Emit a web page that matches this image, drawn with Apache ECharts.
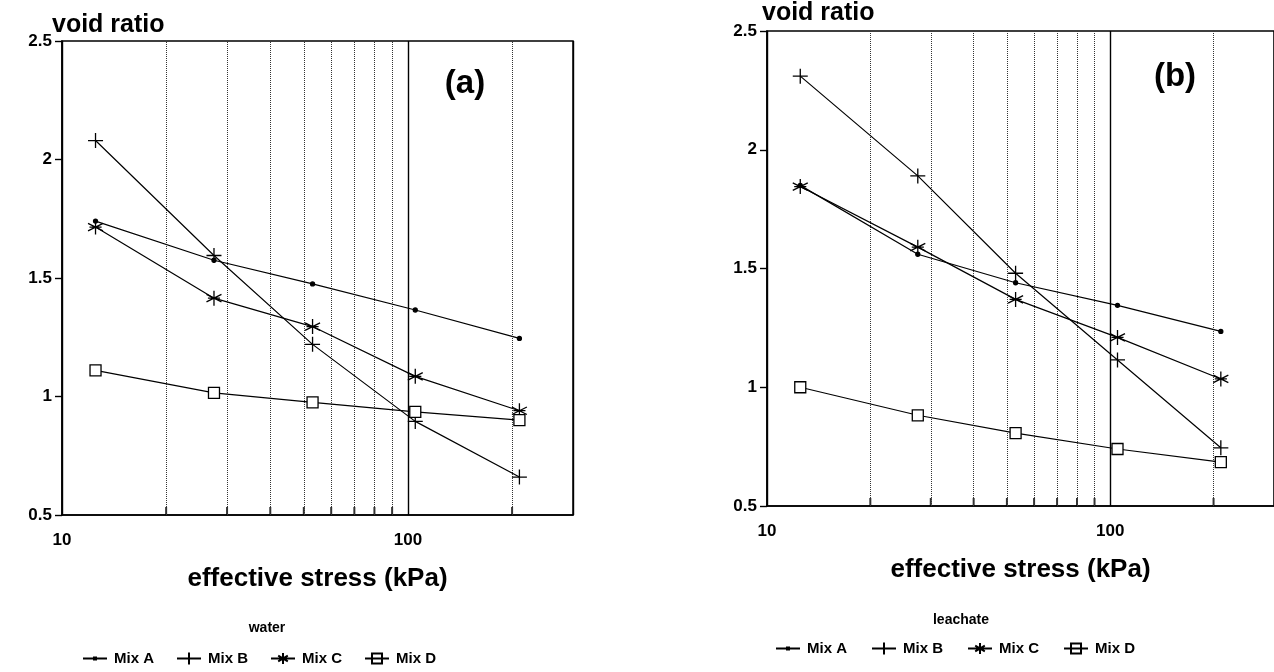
<!DOCTYPE html>
<html>
<head>
<meta charset="utf-8">
<script src="https://cdn.jsdelivr.net/npm/echarts@6/dist/echarts.min.js"></script>
<style>
  html, body { margin: 0; padding: 0; background: #fff; }
  #main { width: 1274px; height: 672px; }
</style>
</head>
<body>
<div id="main"></div>
<script>
// effective stress (kPa), same load steps in both tests
const stress = [12.5, 27.5, 53, 105, 210]
// dotted gridlines / minor ticks on the log axis
const minorTicks = [20, 30, 40, 50, 60, 70, 80, 90, 200]
const mixNames = ['Mix A', 'Mix B', 'Mix C', 'Mix D']

// (a) water
const waterMixA = [1.74, 1.575, 1.475, 1.365, 1.245]
const waterMixB = [2.08, 1.595, 1.22, 0.895, 0.66]
const waterMixC = [1.715, 1.415, 1.295, 1.085, 0.94]
const waterMixD = [1.11, 1.015, 0.975, 0.935, 0.9]

// (b) leachate
const leachMixA = [1.85, 1.56, 1.44, 1.345, 1.235]
const leachMixB = [2.31, 1.89, 1.48, 1.115, 0.745]
const leachMixC = [1.845, 1.59, 1.37, 1.21, 1.035]
const leachMixD = [1.0, 0.882, 0.807, 0.74, 0.685]

const FONT = "'Liberation Sans', Arial, sans-serif"

// 标记样式 (图内 + 图例)
const symbols = {
  'Mix A': { symbol: 'circle', size: 4, fill: '#000',
    icon: 'path://M0,0 M24,12 M0,6 L24,6 M11,5 L13,5 L13,7 L11,7 Z' },
  'Mix B': { symbol: 'path://M5,0 L5,10 M0,5 L10,5', size: 15, fill: '#000',
    icon: 'path://M0,0 M24,12 M0,6 L24,6 M12,0 L12,12' },
  'Mix C': { symbol: 'path://M5,0 L5,10 M0.67,2.5 L9.33,7.5 M0.67,7.5 L9.33,2.5 M1.5,5 L8.5,5', size: 15, fill: '#000',
    icon: 'path://M0,0 M24,12 M0,6 L24,6 M12,0.5 L12,11.5 M7.2,3.2 L16.8,8.8 M7.2,8.8 L16.8,3.2' },
  'Mix D': { symbol: 'rect', size: 11, fill: '#fff',
    icon: 'path://M0,0 M24,12 M0,6 L7,6 M17,6 L24,6 M7,1 L17,1 L17,11 L7,11 Z M7,6 L17,6' }
}

const pairs = vals => stress.map((s, i) => [s, vals[i]])

const mixSeries = (name, vals, idx) => ({
  name: name,
  type: 'line',
  xAxisIndex: idx,
  yAxisIndex: idx,
  data: pairs(vals),
  symbol: symbols[name].symbol,
  symbolSize: symbols[name].size,
  lineStyle: { color: '#000', width: 1.2 },
  itemStyle: { color: symbols[name].fill, borderColor: '#000', borderWidth: 1.3 },
  emphasis: { disabled: true },
  z: 5
})

const gridSeries = idx => ({
  type: 'scatter',
  xAxisIndex: idx,
  yAxisIndex: idx,
  silent: true,
  data: minorTicks.map(v => [v, 0.5]),
  symbol: 'rect',
  symbolSize: [2, 8],
  symbolOffset: [0, -4],
  itemStyle: { color: '#000' },
  markLine: {
    silent: true,
    symbol: 'none',
    label: { show: false },
    lineStyle: { type: 'dotted', color: '#333', width: 1 },
    data: minorTicks.map(v => ({ xAxis: v }))
  },
  z: 2
})

const xAxisOf = idx => ({
  type: 'log',
  logBase: 10,
  min: 10,
  max: 300,
  gridIndex: idx,
  name: 'effective stress (kPa)',
  nameLocation: 'middle',
  nameGap: 51,
  nameMoveOverlap: false,
  nameTextStyle: { fontFamily: FONT, fontWeight: 'bold', fontSize: 26, color: '#000' },
  axisLine: { lineStyle: { color: '#000', width: 1.5 } },
  axisTick: { show: false },
  axisLabel: { showMaxLabel: false, margin: 17, fontFamily: FONT, fontWeight: 'bold', fontSize: 17, color: '#000' },
  splitLine: { show: true, lineStyle: { color: '#000', width: 1.4 } }
})

const yAxisOf = (idx, nameShift, nameGap) => ({
  type: 'value',
  min: 0.5,
  max: 2.5,
  interval: 0.5,
  gridIndex: idx,
  name: 'void ratio',
  nameLocation: 'end',
  nameGap: nameGap,
  nameMoveOverlap: false,
  nameTextStyle: { fontFamily: FONT, fontWeight: 'bold', fontSize: 25, color: '#000', align: 'left', verticalAlign: 'bottom', padding: [0, 0, 0, nameShift] },
  axisLine: { lineStyle: { color: '#000', width: 1.5 } },
  axisTick: { show: true, length: 7, lineStyle: { color: '#000', width: 1.4 } },
  axisLabel: { margin: 10, fontFamily: FONT, fontWeight: 'bold', fontSize: 17, color: '#000' },
  splitLine: { show: false }
})

const legendOf = (left, top, gap) => ({
  left: left,
  top: top,
  padding: 0,
  data: mixNames.map(n => ({ name: n, icon: symbols[n].icon })),
  itemWidth: 24,
  itemHeight: 12,
  itemGap: gap,
  selectedMode: false,
  textStyle: { fontFamily: FONT, fontWeight: 'bold', fontSize: 15, color: '#000', padding: [0, 0, 0, 2] }
})

const chart = echarts.init(document.getElementById('main'))
chart.setOption({
  backgroundColor: '#fff',
  animation: false,
  title: [
    { text: '(a)', left: 460, top: 62, textAlign: 'center', textStyle: { fontFamily: FONT, fontWeight: 'bold', fontSize: 33, color: '#000' } },
    { text: '(b)', left: 1170, top: 55, textAlign: 'center', textStyle: { fontFamily: FONT, fontWeight: 'bold', fontSize: 33, color: '#000' } },
    { text: 'water', left: 262, top: 616, textAlign: 'center', textStyle: { fontFamily: FONT, fontWeight: 'bold', fontSize: 14, color: '#000' } },
    { text: 'leachate', left: 956, top: 608, textAlign: 'center', textStyle: { fontFamily: FONT, fontWeight: 'bold', fontSize: 14, color: '#000' } }
  ],
  legend: [legendOf(82, 651, 22), legendOf(775, 641, 24)],
  grid: [
    { left: 62, top: 41, width: 511, height: 474, show: true, borderColor: '#000', borderWidth: 1.5 },
    { left: 767, top: 31, width: 511, height: 475, show: true, borderColor: '#000', borderWidth: 1.5 }
  ],
  xAxis: [xAxisOf(0), xAxisOf(1)],
  yAxis: [yAxisOf(0, -10, 3), yAxisOf(1, -5, 5)],
  series: [
    gridSeries(0),
    gridSeries(1),
    mixSeries('Mix A', waterMixA, 0),
    mixSeries('Mix B', waterMixB, 0),
    mixSeries('Mix C', waterMixC, 0),
    mixSeries('Mix D', waterMixD, 0),
    mixSeries('Mix A', leachMixA, 1),
    mixSeries('Mix B', leachMixB, 1),
    mixSeries('Mix C', leachMixC, 1),
    mixSeries('Mix D', leachMixD, 1)
  ]
})
</script>
</body>
</html>
